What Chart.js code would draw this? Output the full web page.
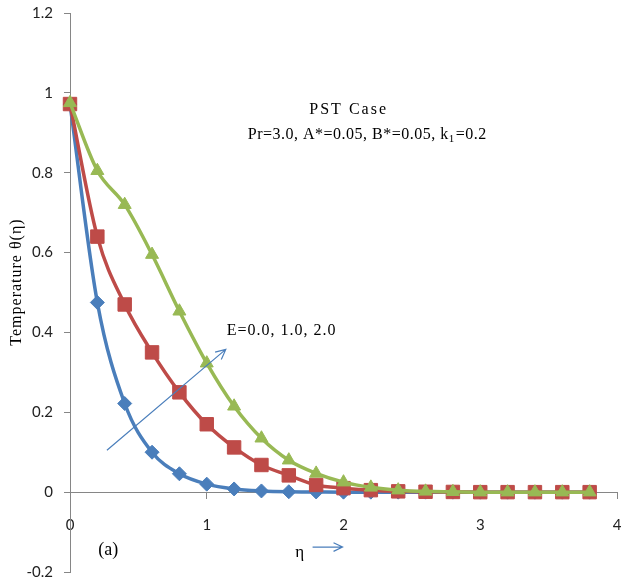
<!DOCTYPE html>
<html>
<head>
<meta charset="utf-8">
<script src="https://cdn.jsdelivr.net/npm/chart.js@4.4.0/dist/chart.umd.min.js"></script>
<style>
  body { margin: 0; background: #fff; }
  canvas { display: block; }
</style>
</head>
<body>
<canvas id="myChart" width="622" height="585"></canvas>
<script>
// eta values (x axis)
var etaValues = [0, 0.2, 0.4, 0.6, 0.8, 1.0, 1.2, 1.4, 1.6, 1.8, 2.0, 2.2, 2.4, 2.6, 2.8, 3.0, 3.2, 3.4, 3.6, 3.8];
// temperature profiles theta(eta)
var thetaE0 = [0.972, 0.475, 0.222, 0.100, 0.046, 0.020, 0.008, 0.003, 0.001, 0.0005, 0, 0, 0, 0, 0, 0, 0, 0, 0, 0];
var thetaE1 = [0.972, 0.640, 0.470, 0.350, 0.250, 0.170, 0.112, 0.068, 0.042, 0.018, 0.010, 0.005, 0.002, 0.001, 0.0005, 0, 0, 0, 0, 0];
var thetaE2 = [0.975, 0.805, 0.720, 0.595, 0.453, 0.323, 0.215, 0.135, 0.080, 0.047, 0.025, 0.012, 0.005, 0.002, 0.001, 0, 0, 0, 0, 0];

var seriesNames = ['E=0.0', 'E=1.0', 'E=2.0'];
var xTicks = [0, 1, 2, 3, 4];
var yTicks = [-0.2, 0, 0.2, 0.4, 0.6, 0.8, 1.0, 1.2];

function toPoints(ys) {
    return etaValues.map(function (x, i) { return { x: x, y: ys[i] }; });
}

function makeSet(label, ys, color, style, radius, order) {
    return {
        label: label,
        data: toPoints(ys),
        borderColor: color,
        backgroundColor: color,
        borderWidth: 3.5,
        pointStyle: style,
        pointRadius: radius,
        pointBorderWidth: 1,
        pointBackgroundColor: color,
        pointBorderColor: color,
        cubicInterpolationMode: 'monotone',
        fill: false,
        clip: false,
        order: order
    };
}

// notes drawn on top of the plot, positioned in data units
var notesPlugin = {
    id: 'notes',
    afterDraw: function (chart) {
        var ctx = chart.ctx;
        var xs = chart.scales.x;
        var ys = chart.scales.y;
        function px(x) { return xs.getPixelForValue(x); }
        function py(y) { return ys.getPixelForValue(y); }

        ctx.save();
        ctx.fillStyle = '#000';
        ctx.textBaseline = 'middle';
        ctx.font = '16px "Liberation Serif", serif';

        ctx.textAlign = 'left';
        ctx.letterSpacing = '2px';
        ctx.fillText('PST Case', px(1.75), py(0.9575));

        // second line with subscript on k
        ctx.letterSpacing = '0.5px';
        var x0 = px(1.30), y0 = py(0.895);
        var part1 = 'Pr=3.0, A*=0.05, B*=0.05, k';
        ctx.fillText(part1, x0, y0);
        var w1 = ctx.measureText(part1).width;
        ctx.font = '11px "Liberation Serif", serif';
        ctx.fillText('1', x0 + w1, y0 + 4);
        var w2 = ctx.measureText('1').width;
        ctx.font = '16px "Liberation Serif", serif';
        ctx.fillText('=0.2', x0 + w1 + w2 + 1, y0);

        ctx.letterSpacing = '1px';
        ctx.fillText('E=0.0, 1.0, 2.0', px(1.146), py(0.405));

        ctx.letterSpacing = '0px';
        ctx.textAlign = 'center';
        ctx.font = '18px "Liberation Serif", serif';
        ctx.fillText('(a)', px(0.28), py(-0.145));
        ctx.font = '17px "Liberation Serif", serif';
        ctx.fillText('\u03b7', px(1.68), py(-0.15));

        // y axis title
        ctx.save();
        ctx.font = '16px "Liberation Serif", serif';
        ctx.translate(17, 282);
        ctx.rotate(-Math.PI / 2);
        ctx.letterSpacing = '1px';
        ctx.fillText('Temperature \u03b8(\u03b7)', 0, 0);
        ctx.restore();

        // arrows
        function arrow(xa, ya, xb, yb, head) {
            var ax = px(xa), ay = py(ya), bx = px(xb), by = py(yb);
            var ang = Math.atan2(by - ay, bx - ax);
            ctx.beginPath();
            ctx.moveTo(ax, ay);
            ctx.lineTo(bx, by);
            ctx.moveTo(bx - head * Math.cos(ang - 0.45), by - head * Math.sin(ang - 0.45));
            ctx.lineTo(bx, by);
            ctx.lineTo(bx - head * Math.cos(ang + 0.45), by - head * Math.sin(ang + 0.45));
            ctx.stroke();
        }
        ctx.strokeStyle = '#4A7EBB';
        ctx.lineWidth = 1.2;
        arrow(0.27, 0.105, 1.139, 0.3575, 11);
        arrow(1.774, -0.1375, 1.993, -0.1375, 10);
        ctx.restore();
    }
};

document.addEventListener('DOMContentLoaded', function () {
    var ctx = document.getElementById('myChart').getContext('2d');
    new Chart(ctx, {
        type: 'line',
        data: {
            datasets: [
                makeSet(seriesNames[0], thetaE0, '#4A7EBB', 'rectRot', 7, 3),
                makeSet(seriesNames[1], thetaE1, '#BE4B48', 'rect', 9.5, 2),
                makeSet(seriesNames[2], thetaE2, '#98B954', 'triangle', 7.5, 1)
            ]
        },
        options: {
            responsive: false,
            animation: false,
            layout: {
                autoPadding: false,
                padding: { top: 13, bottom: 13, right: 5, left: 0 }
            },
            scales: {
                x: {
                    type: 'linear',
                    position: { y: 0 },
                    min: 0,
                    max: 4,
                    afterBuildTicks: function (scale) {
                        scale.ticks = xTicks.map(function (v) { return { value: v }; });
                    },
                    afterFit: function (scale) {
                        scale.paddingLeft = 0;
                        scale.paddingRight = 0;
                    },
                    grid: {
                        drawOnChartArea: false,
                        color: '#868686',
                        tickLength: 6
                    },
                    border: { color: '#868686' },
                    ticks: {
                        padding: 18,
                        color: '#222',
                        font: { family: 'Lato', size: 15 }
                    }
                },
                y: {
                    min: -0.2,
                    max: 1.2,
                    afterBuildTicks: function (scale) {
                        scale.ticks = yTicks.map(function (v) { return { value: v }; });
                    },
                    afterFit: function (scale) {
                        scale.width = 70;
                        scale.paddingTop = 0;
                        scale.paddingBottom = 0;
                    },
                    grid: {
                        drawOnChartArea: false,
                        color: '#868686',
                        tickLength: 6
                    },
                    border: { color: '#868686' },
                    ticks: {
                        padding: 11,
                        color: '#222',
                        font: { family: 'Lato', size: 15 },
                        callback: function (v) { return String(+v.toFixed(1)); }
                    }
                }
            },
            plugins: {
                legend: { display: false },
                tooltip: { enabled: false }
            }
        },
        plugins: [notesPlugin]
    });
});
</script>
</body>
</html>
